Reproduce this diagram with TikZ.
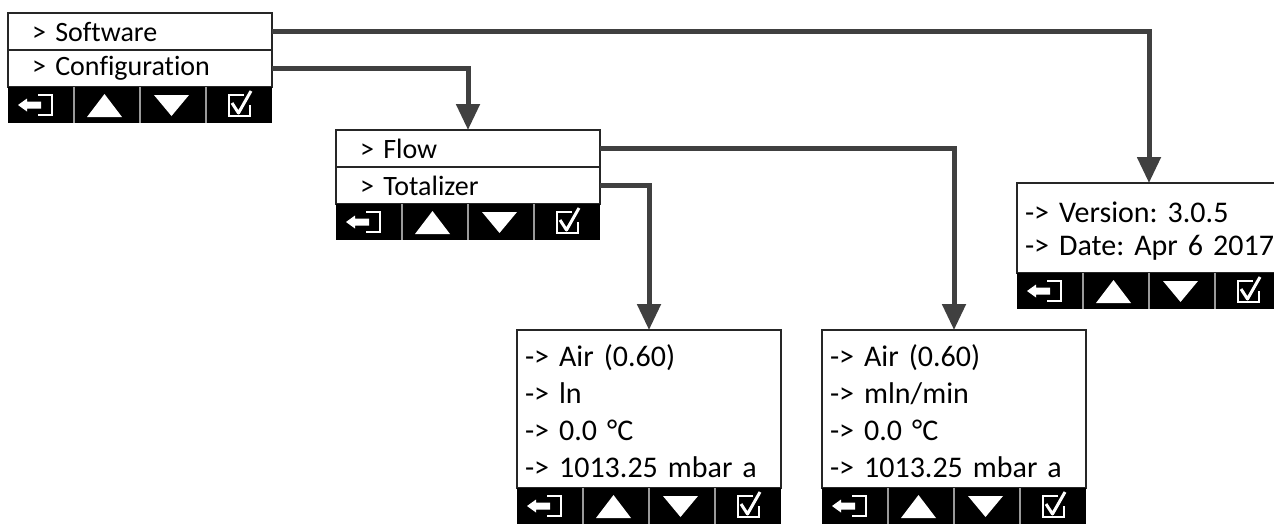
\documentclass[tikz,border=0pt]{standalone}
\usepackage{fontspec}
\setmainfont{Carlito}[Ligatures={TeX,NoCommon}]
\usetikzlibrary{positioning,arrows.meta}
\definecolor{linkgray}{HTML}{404040}
\definecolor{sepgray}{HTML}{9A9A9A}

\tikzset{
  menurow/.style={draw=black!85, line width=1.2pt, outer sep=0pt, anchor=north west,
    minimum height=37pt, inner ysep=0pt, inner xsep=24pt, text width=216pt,
    font=\fontsize{28}{34}\selectfont\frenchspacing},
  infobox/.style={draw=black!85, line width=1.2pt, outer sep=0pt, anchor=north west,
    inner ysep=0pt, inner xsep=8pt, text width=248pt, text height=27pt,
    font=\fontsize{30}{37}\selectfont\frenchspacing},
  link/.style={draw=linkgray, line width=5pt, -{Triangle[width=23pt,length=26pt]}},
  keybar/.pic={
    \fill[black] (0,0) rectangle (264,36);
    \foreach \sx in {66,132,198}
      \draw[sepgray, line width=1.5pt] (\sx,0) -- (\sx,36);
    % exit, up, down, confirm
    \fill[white] (10,18) -- (19,11.5) -- (19,14.5) -- (33,14.5) -- (33,21.5) -- (19,21.5) -- (19,24.5) -- cycle;
    \draw[white, line width=2pt] (30,8) -- (44,8) -- (44,28) -- (30,28);
    \fill[white] (79,30) -- (96.5,7) -- (114,30) -- cycle;
    \fill[white] (146,8) -- (181,8) -- (163.5,29) -- cycle;
    \draw[white, line width=2pt] (236,8) -- (221,8) -- (221,29) -- (242,29) -- (242,18);
    \draw[white, line width=3pt, line join=round] (224,16) -- (230.5,26) -- (243,4);
  }
}

\begin{document}
\begin{tikzpicture}[x=1pt, y=-1pt]
\clip (0,0) rectangle (1274,523);

\node[menurow] (software) at (8,13) {> Software};
\node[menurow, below=0pt of software] (configuration) {> Configuration};
\pic at (configuration.south west) {keybar};

\node[menurow] (flow) at (336,130) {> Flow};
\node[menurow, below=0pt of flow] (totalizer) {> Totalizer};
\pic at (totalizer.south west) {keybar};

\node[infobox, minimum height=90pt, font=\fontsize{30}{33}\selectfont\frenchspacing] (versioninfo) at (1017,183) {\mbox{-> Version: 3.0.5}\\\mbox{-> Date: Apr 6 2017}};
\pic at (versioninfo.south west) {keybar};

\node[infobox, minimum height=158pt] (totalizerinfo) at (517,330) {-> Air (0.60)\\-> ln\\-> 0.0 °C\\-> 1013.25 mbar a};
\pic at (totalizerinfo.south west) {keybar};

\node[infobox, minimum height=158pt] (flowinfo) at (822,330) {-> Air (0.60)\\-> mln/min\\-> 0.0 °C\\-> 1013.25 mbar a};
\pic at (flowinfo.south west) {keybar};

\draw[link] (software.east) -| (versioninfo.north);
\draw[link] (configuration.east) -| (flow.north);
\draw[link] (flow.east) -| (flowinfo.north);
\draw[link] (totalizer.east) -| (totalizerinfo.north);
\end{tikzpicture}
\end{document}
